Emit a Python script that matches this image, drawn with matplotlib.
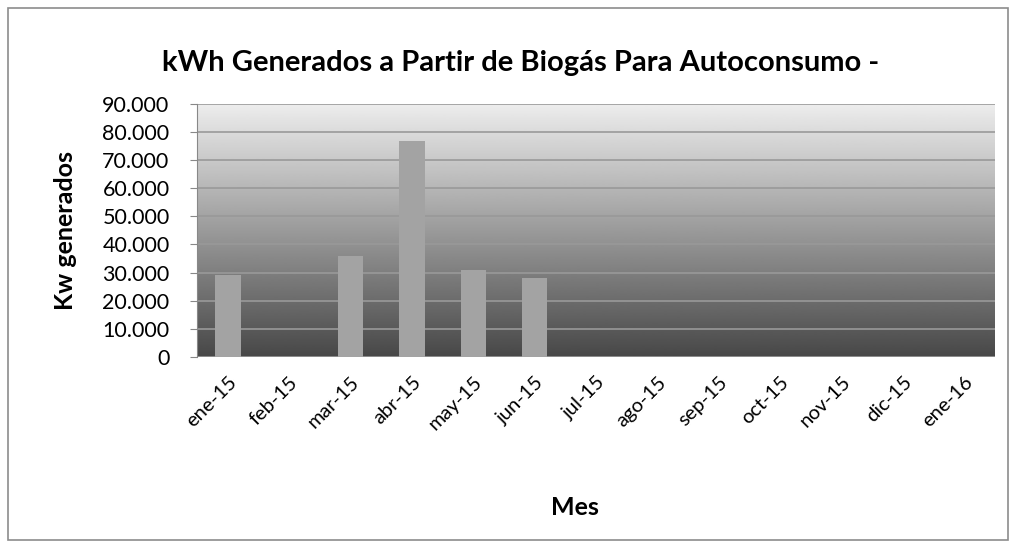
import numpy as np
import matplotlib
matplotlib.use('Agg')
import matplotlib.pyplot as plt
import matplotlib.transforms as mtransforms
from matplotlib.patches import Rectangle
from matplotlib.ticker import FuncFormatter

plt.rcParams['font.family'] = ['Lato', 'DejaVu Sans']

# data
months = ["ene-15", "feb-15", "mar-15", "abr-15", "may-15", "jun-15", "jul-15",
          "ago-15", "sep-15", "oct-15", "nov-15", "dic-15", "ene-16"]
kwh = [29000, 0, 36000, 77000, 31000, 28000, 0, 0, 0, 0, 0, 0, 0]
y_ticks = [0, 10000, 20000, 30000, 40000, 50000, 60000, 70000, 80000, 90000]

title = "kWh Generados a Partir de Biogás Para Autoconsumo -"

fig = plt.figure(figsize=(10.12, 5.48), dpi=100)
fig.patch.set_facecolor('white')
ax = fig.add_axes([0.195, 0.349, 0.788, 0.461])

x = np.arange(len(months))
ax.set_xlim(-0.5, len(months) - 0.5)
ax.set_ylim(0, 90000)

# background gradient: light at the top, dark at the bottom
grad = np.linspace(0.28, 0.93, 256).reshape(-1, 1)
ax.imshow(grad, extent=[-0.5, len(months) - 0.5, 0, 90000], aspect='auto',
          origin='lower', cmap='gray', vmin=0, vmax=1, zorder=0)

ax.set_yticks(y_ticks)
ax.yaxis.grid(True, color='#999999', linewidth=1.2, zorder=1)
ax.set_axisbelow(True)

ax.bar(x, kwh, width=0.41, color='#a3a3a3', zorder=3)

ax.yaxis.set_major_formatter(FuncFormatter(lambda v, p: f"{int(v):,}".replace(",", ".")))
ax.set_xticks(x)
ax.set_xticklabels(months, rotation=45, ha='right', rotation_mode='anchor', fontsize=14.5)
shift = mtransforms.ScaledTranslation(10 / 100, 0, fig.dpi_scale_trans)
for lbl in ax.get_xticklabels():
    lbl.set_transform(lbl.get_transform() + shift)
ax.tick_params(axis='y', labelsize=15.5, length=5, color='#888888', pad=15)
ax.tick_params(axis='x', length=0, pad=12)

for s in ['top', 'right', 'bottom']:
    ax.spines[s].set_visible(False)
ax.spines['left'].set_color('#888888')

ax.set_ylabel("Kw generados", fontsize=18, fontweight='bold', labelpad=18)
fig.text(0.568, 0.073, "Mes", fontsize=18, fontweight='bold', ha='center', va='center')
fig.text(0.514, 0.885, title, fontsize=21, fontweight='bold', ha='center', va='center')

# chart frame
fig.patches.append(Rectangle((8 / 1012, 8 / 548), 1000 / 1012, 532 / 548,
                             transform=fig.transFigure, fill=False,
                             edgecolor='#8c8c8c', linewidth=1.2))

fig.savefig("out.png", dpi=100)
